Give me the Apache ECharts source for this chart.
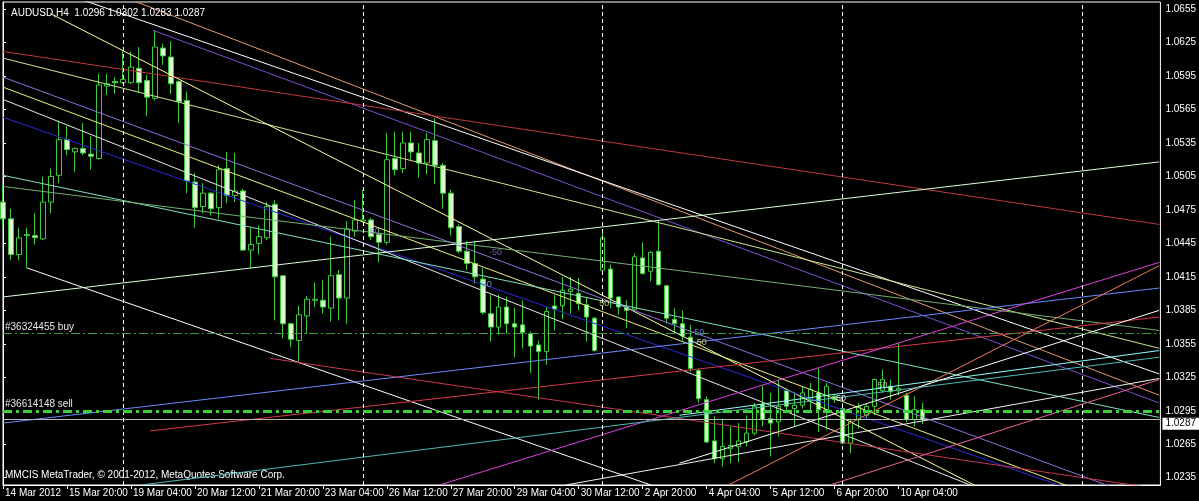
<!DOCTYPE html>
<html><head><meta charset="utf-8">
<script src="https://cdn.jsdelivr.net/npm/echarts@6/dist/echarts.min.js"></script>
<style>html,body{margin:0;padding:0;background:#000;}#c{width:1199px;height:501px;}</style>
</head><body><div id="c"></div><script>
// ---- data ----
const timeLabels = ['14 Mar 2012','15 Mar 20:00','19 Mar 04:00','20 Mar 12:00','21 Mar 20:00','23 Mar 04:00','26 Mar 12:00','27 Mar 20:00','29 Mar 04:00','30 Mar 12:00','2 Apr 20:00','4 Apr 04:00','5 Apr 12:00','6 Apr 20:00','10 Apr 04:00'];
const timeTickBars = [0,8,16,24,32,40,48,56,64,72,80,88,96,104,112];
const priceTicks = [1.0235,1.0265,1.0295,1.0325,1.0355,1.0385,1.0415,1.0445,1.0475,1.0505,1.0535,1.0565,1.0595,1.0625,1.0655];
const weekStartBars = [15,45,75,105,135];
// open, close, low, high (one H4 bar each, starting 14 Mar 12:00)
const candles = [
[1.0482,1.0467,1.0460,1.0497],[1.0467,1.0435,1.0430,1.0476],[1.0435,1.0450,1.0430,1.0459],[1.0452,1.0453,1.0423,1.0459],
[1.0452,1.0450,1.0444,1.0472],[1.0449,1.0482,1.0448,1.0505],[1.0482,1.0505,1.0472,1.0512],[1.0506,1.0538,1.0499,1.0555],
[1.0538,1.0529,1.0524,1.0550],[1.0527,1.0530,1.0509,1.0531],[1.0530,1.0526,1.0524,1.0553],[1.0525,1.0523,1.0511,1.0541],
[1.0521,1.0587,1.0520,1.0597],[1.0586,1.0588,1.0578,1.0597],[1.0590,1.0589,1.0579,1.0594],[1.0589,1.0592,1.0588,1.0617],
[1.0589,1.0603,1.0588,1.0617],[1.0602,1.0589,1.0580,1.0621],[1.0591,1.0576,1.0559,1.0596],[1.0575,1.0621,1.0573,1.0636],
[1.0620,1.0613,1.0605,1.0624],[1.0612,1.0588,1.0579,1.0626],[1.0590,1.0572,1.0553,1.0591],[1.0573,1.0501,1.0490,1.0581],
[1.0500,1.0477,1.0459,1.0508],[1.0478,1.0490,1.0472,1.0499],[1.0490,1.0476,1.0470,1.0491],[1.0477,1.0511,1.0467,1.0515],
[1.0512,1.0488,1.0481,1.0527],[1.0488,1.0492,1.0482,1.0526],[1.0492,1.0439,1.0438,1.0494],[1.0439,1.0444,1.0423,1.0459],
[1.0445,1.0451,1.0435,1.0461],[1.0450,1.0478,1.0448,1.0482],[1.0480,1.0415,1.0376,1.0484],[1.0416,1.0373,1.0360,1.0416],
[1.0373,1.0359,1.0352,1.0374],[1.0358,1.0381,1.0339,1.0389],[1.0380,1.0395,1.0364,1.0398],[1.0394,1.0395,1.0388,1.0410],
[1.0394,1.0388,1.0382,1.0412],[1.0387,1.0416,1.0375,1.0451],[1.0417,1.0396,1.0376,1.0421],[1.0396,1.0458,1.0373,1.0465],
[1.0456,1.0466,1.0451,1.0484],[1.0465,1.0466,1.0464,1.0493],[1.0466,1.0451,1.0448,1.0468],[1.0453,1.0446,1.0428,1.0459],
[1.0446,1.0520,1.0444,1.0544],[1.0521,1.0511,1.0506,1.0545],[1.0512,1.0535,1.0508,1.0545],[1.0535,1.0527,1.0520,1.0545],
[1.0526,1.0517,1.0504,1.0535],[1.0517,1.0538,1.0507,1.0544],[1.0537,1.0515,1.0498,1.0557],[1.0515,1.0490,1.0476,1.0517],
[1.0490,1.0459,1.0452,1.0493],[1.0460,1.0438,1.0436,1.0462],[1.0438,1.0427,1.0421,1.0447],[1.0427,1.0415,1.0409,1.0447],
[1.0413,1.0383,1.0381,1.0423],[1.0382,1.0370,1.0357,1.0399],[1.0370,1.0388,1.0363,1.0399],[1.0388,1.0373,1.0364,1.0397],
[1.0373,1.0370,1.0343,1.0387],[1.0372,1.0365,1.0351,1.0394],[1.0364,1.0353,1.0329,1.0366],[1.0354,1.0348,1.0305,1.0358],
[1.0348,1.0384,1.0336,1.0388],[1.0389,1.0386,1.0367,1.0399],[1.0389,1.0403,1.0377,1.0415],[1.0402,1.0404,1.0382,1.0415],
[1.0400,1.0391,1.0385,1.0414],[1.0390,1.0379,1.0357,1.0396],[1.0378,1.0349,1.0348,1.0379],[1.0421,1.0450,1.0420,1.0456],
[1.0422,1.0396,1.0387,1.0426],[1.0397,1.0388,1.0381,1.0398],[1.0388,1.0385,1.0369,1.0394],[1.0386,1.0433,1.0384,1.0436],
[1.0432,1.0418,1.0417,1.0446],[1.0420,1.0437,1.0411,1.0438],[1.0438,1.0408,1.0407,1.0465],[1.0407,1.0378,1.0373,1.0408],
[1.0377,1.0373,1.0364,1.0387],[1.0373,1.0362,1.0358,1.0385],[1.0361,1.0333,1.0330,1.0372],[1.0331,1.0306,1.0302,1.0333],
[1.0305,1.0267,1.0266,1.0308],[1.0268,1.0252,1.0248,1.0290],[1.0252,1.0263,1.0245,1.0288],[1.0261,1.0264,1.0248,1.0281],
[1.0263,1.0268,1.0249,1.0284],[1.0267,1.0275,1.0263,1.0291],[1.0275,1.0299,1.0273,1.0302],[1.0301,1.0287,1.0281,1.0318],
[1.0288,1.0284,1.0254,1.0311],[1.0285,1.0299,1.0272,1.0323],[1.0313,1.0299,1.0294,1.0315],[1.0297,1.0300,1.0281,1.0312],
[1.0300,1.0311,1.0297,1.0317],[1.0305,1.0314,1.0294,1.0320],[1.0311,1.0296,1.0276,1.0333],[1.0296,1.0317,1.0278,1.0320],
[1.0308,1.0305,1.0302,1.0309],[1.0297,1.0266,1.0265,1.0302],[1.0266,1.0285,1.0257,1.0287],[1.0287,1.0299,1.0279,1.0302],
[1.0291,1.0299,1.0288,1.0301],[1.0299,1.0323,1.0291,1.0324],[1.0313,1.0323,1.0311,1.0332],[1.0317,1.0312,1.0305,1.0323],
[1.0313,1.0315,1.0309,1.0356],[1.0309,1.0287,1.0285,1.0311],[1.0287,1.0296,1.0281,1.0308],[1.0296,1.0287,1.0283,1.0302]
];
// trend lines: [barIndex1, price1, barIndex2, price2]
const trendLines = [
[16.1,1.0663,144.6,1.0309],[10.0,1.0663,144.6,1.0328],[18.75,1.0636,144.6,1.0302],[0,1.0617,144.6,1.0462],
[0,1.0611,144.6,1.0351],[5.9,1.0651,124.6,1.0217],[0,1.0594,144.6,1.0211],[0,1.0585,144.6,1.0197],
[0,1.0558,144.6,1.0197],[0,1.0574,144.6,1.0161],[0,1.0506,144.6,1.0289],[0,1.0496,144.6,1.0367],
[0,1.0397,144.6,1.0518],[3,1.0423,144.6,1.0070],[0,1.0284,144.6,1.0405],[18.4,1.0277,144.6,1.0379],
[33.4,1.0342,144.6,1.0225],[54.6,1.02285,144.6,1.0428],[90.75,1.02285,144.6,1.0425],[103.4,1.02285,144.6,1.0323],
[84.6,1.0291,144.6,1.0349],[84.6,1.0248,144.6,1.0385],[17.25,1.02285,144.6,1.0343],[70.4,1.02285,144.6,1.0324]
];
const trendColors = ['#e09a70','#ffffff','#7a50d0','#c03838','#c8e890','#ffffa0','#9070e0','#f0f080',
'#2a2ad8','#e8e8e8','#80e0c0','#70b070','#d8ffd8','#ffffff','#6a8cff','#d83848',
'#c83850','#e040e0','#f07858','#f060a0','#90ffff','#ffffff','#50b8b8','#f0f0f0'];
// small level tags on the drawn objects: [barIndex, price, text]
const levelTags = [[61.6,1.04364,'-50'],[60.5,1.04077,'50'],[46.5,1.04552,'50'],[75.2,1.03907,'50'],
[86.9,1.03647,'-50'],[87.4,1.03566,'50'],[104.8,1.03064,'50'],[110,1.03172,'50']];
const levelTagColors = ['#8a6ad8','#70d0e0','#8a6ad8','#f0f080','#70a0ff','#f0f080','#ffffff','#e0e0c0'];
const orderLines = [{name:'#36324455 buy', price:1.03647},{name:'#36614148 sell', price:1.02942}];
const bidPrice = 1.0287;
const header = 'AUDUSD,H4  1.0296 1.0302 1.0283 1.0287';
const footer = 'MMCIS MetaTrader, \u00a9 2001-2012, MetaQuotes Software Corp.';

// ---- chart ----
const FONT = 'Liberation Sans, Arial, sans-serif';
const chart = echarts.init(document.getElementById('c'), null, {renderer:'canvas'});
const series = [];
series.push({
  type:'candlestick', name:'AUDUSD', z:3, clip:true, barWidth:5,
  data: candles.map((c,i)=>[i,c[0],c[1],c[2],c[3]]),
  encode:{x:0, y:[1,2,3,4]},
  itemStyle:{color:'#000000', color0:'#dcf8cc', borderColor:'#3ccc3c', borderColor0:'#3ccc3c', borderWidth:1},
  silent:true, animation:false
});
trendLines.forEach((t,k)=>{
  series.push({type:'line', z:4, silent:true, animation:false, clip:true, symbol:'none',
    data:[[t[0],t[1]],[t[2],t[3]]], lineStyle:{color:trendColors[k], width:1}});
});
series.push({
  type:'scatter', z:6, silent:true, animation:false, symbolSize:0,
  data: levelTags.map((t,k)=>({value:[t[0],t[1]], label:{show:true, position:'inside', formatter:t[2], color:levelTagColors[k], fontFamily:FONT, fontSize:9}}))
});
// separators and order lines
series.push({
  type:'line', z:5, silent:true, animation:false, data:[], symbol:'none',
  markLine:{
    silent:true, symbol:'none', animation:false, precision:5,
    data:[
      ...weekStartBars.map(b=>({xAxis:b, lineStyle:{color:'#ffffff', type:[4,3], width:1}, label:{show:false}})),
      {yAxis:orderLines[0].price, lineStyle:{color:'#3f9a3f', type:[9,3,2,3], width:1, opacity:1},
        label:{show:true, position:'insideStartTop', formatter:orderLines[0].name, color:'#e8e8e8', fontFamily:FONT, fontSize:10, distance:[2,1]}},
      {yAxis:orderLines[1].price, lineStyle:{color:'#3fd03f', type:[9,4,3,4], width:3},
        label:{show:true, position:'insideStartTop', formatter:orderLines[1].name, color:'#e8e8e8', fontFamily:FONT, fontSize:10, distance:[2,2]}},
      {yAxis:bidPrice, lineStyle:{color:'#b8b8b8', type:'solid', width:1},
        label:{show:true, position:'end', formatter:bidPrice.toFixed(4), color:'#000', backgroundColor:'#fff', fontFamily:FONT, fontSize:10, padding:[1,3,1,3], distance:2, offset:[0,4]}}
    ]
  }
});

chart.setOption({
  backgroundColor:'#000000',
  animation:false,
  title:{text:header, left:6, top:3, textStyle:{color:'#ffffff', fontFamily:FONT, fontSize:10, fontWeight:'normal'}},
  graphic:[{type:'text', left:5, top:470, style:{text:footer, fill:'#ffffff', font:'10px '+FONT}}],
  grid:{left:3, top:2, width:1158, height:483, show:true, borderColor:'#ffffff', borderWidth:1, backgroundColor:'transparent'},
  xAxis:{type:'value', min:0, max:144.75,
    axisLine:{show:true, lineStyle:{color:'#ffffff'}},
    axisTick:{show:true, length:4, inside:false, customValues:timeTickBars, lineStyle:{color:'#ffffff'}},
    axisLabel:{show:true, customValues:timeTickBars, color:'#ffffff', fontFamily:FONT, fontSize:10, align:'left', margin:3, padding:[0,0,0,2],
      formatter:v=>{const i=timeTickBars.indexOf(Math.round(v)); return i>=0?timeLabels[i]:'';}},
    splitLine:{show:false}},
  yAxis:{type:'value', position:'right', min:1.02285, max:1.06613,
    axisLine:{show:true, lineStyle:{color:'#ffffff'}},
    axisTick:{show:true, length:3, customValues:priceTicks, lineStyle:{color:'#ffffff'}},
    axisLabel:{show:true, customValues:priceTicks, color:'#ffffff', fontFamily:FONT, fontSize:10, margin:5,
      formatter:v=>v.toFixed(4)},
    splitLine:{show:false}},
  series:series
});
</script></body></html>
